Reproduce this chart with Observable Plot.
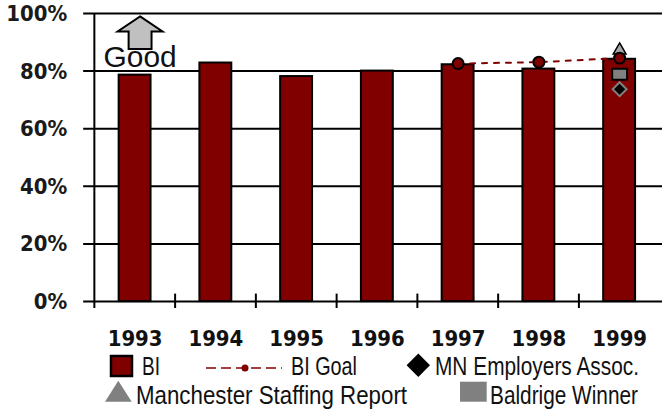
<!DOCTYPE html>
<html><head><meta charset="utf-8">
<script src="https://cdn.jsdelivr.net/npm/d3@7"></script>
<script src="https://cdn.jsdelivr.net/npm/@observablehq/plot@0.6"></script>
<style>
body{margin:0;background:#fff;}
#wrap{position:relative;width:662px;height:411px;overflow:hidden;background:#fff;}
#chart{position:absolute;left:0;top:0;}
#legsvg{position:absolute;left:0;top:0;}
.leg{position:absolute;font-family:"Liberation Sans Narrow","Arial Narrow","Liberation Sans",sans-serif;font-size:25px;color:#111;white-space:nowrap;line-height:22px;height:22px;transform-origin:left center;}
</style></head><body>
<div id="wrap"><div id="chart"></div><div id="legend"></div></div>
<script>
// ---- data ----
const years = ["1993", "1994", "1995", "1996", "1997", "1998", "1999"];
const biValues = [78.6, 82.8, 78.1, 80.0, 82.2, 80.7, 84.1];
const goalYears = ["1997", "1998", "1999"];
const goalValues = [82.6, 83.1, 84.5];
const benchYear = "1999";
const mnEmployersValue = 73.7;
const manchesterValue = 87.2;
const baldrigeValue = 78.9;
const yTicks = [0, 20, 40, 60, 80, 100];
const goodLabel = "Good";
const goodYear = "1993";
const goodArrowValue = 93.3;
const goodTextValue = 84.7;
const legendLabels = ["BI", "BI Goal", "MN Employers Assoc.", "Manchester Staffing Report", "Baldrige Winner"];

// ---- tables ----
const bi = years.map((year, i) => ({year, value: biValues[i]}));
const goal = goalYears.map((year, i) => ({year, value: goalValues[i]}));

const W = 664, ML = 92;
const step = (W - ML) / years.length;
const axisFont = "'DejaVu Sans Condensed', 'DejaVu Sans', sans-serif";
const narrowFont = "'Liberation Sans Narrow', 'Arial Narrow', 'Liberation Sans', sans-serif";

const arrowUp = {draw(ctx) {
  ctx.moveTo(0, -16.4); ctx.lineTo(22.5, -1.3); ctx.lineTo(11.5, -1.3); ctx.lineTo(11.5, 16.4);
  ctx.lineTo(-11.5, 16.4); ctx.lineTo(-11.5, -1.3); ctx.lineTo(-22.5, -1.3); ctx.closePath();
}};
const rectSym = {draw(ctx) { ctx.rect(-7.5, -5.5, 15, 11); }};

const plot = Plot.plot({
  width: W, height: 352,
  marginLeft: ML, marginRight: 0, marginTop: 13, marginBottom: 50,
  style: {background: "transparent", overflow: "visible"},
  x: {domain: years, paddingInner: 0.6, paddingOuter: 0.3, label: null, axis: null},
  y: {domain: [0, 100], label: null, axis: null},
  marks: [
    Plot.ruleY(yTicks, {stroke: "#000", strokeWidth: 2, insetLeft: -8.6}),
    Plot.ruleX([years[0]], {dx: -step / 2, y1: -2.4, y2: 100, stroke: "#000", strokeWidth: 2}),
    Plot.ruleX(years.slice(1), {dx: -step / 2, y1: -2.4, y2: 2.6, stroke: "#000", strokeWidth: 2}),
    Plot.axisY(yTicks, {tickSize: 0, tickPadding: 25, tickFormat: d => d + "%", fontSize: 22, fontWeight: "bold", fontFamily: axisFont, fill: "#1a1a1a", dy: 0.5, label: null}),
    Plot.axisX({tickSize: 0, tickPadding: 29, fontSize: 22, fontWeight: "bold", fontFamily: axisFont, fill: "#111", label: null}),
    Plot.barY(bi, {x: "year", y: "value", fill: "#800000", stroke: "#000", strokeWidth: 2}),
    Plot.line(goal, {x: "year", y: "value", stroke: "#800000", strokeWidth: 2, strokeDasharray: "5,7"}),
    Plot.dot([{year: benchYear, value: manchesterValue}], {x: "year", y: "value", symbol: "triangle", r: 4.8, fill: "#a6a6a6", stroke: "#000", strokeWidth: 1.5}),
    Plot.dot(goal, {x: "year", y: "value", r: 5.5, fill: "#800000", stroke: "#000", strokeWidth: 2}),
    Plot.dot([{year: benchYear, value: baldrigeValue}], {x: "year", y: "value", symbol: rectSym, r: 5, fill: "#808080", stroke: "#000", strokeWidth: 2}),
    Plot.dot([{year: benchYear, value: mnEmployersValue}], {x: "year", y: "value", symbol: "diamond2", r: 6.3, fill: "#000", stroke: "#808080", strokeWidth: 2}),
    Plot.dot([{year: goodYear, value: goodArrowValue}], {x: "year", y: "value", symbol: arrowUp, r: 10, dx: 5, fill: "#c0c0c0", stroke: "#000", strokeWidth: 2}),
    Plot.text([{year: goodYear, value: goodTextValue}], {x: "year", y: "value", text: () => goodLabel, dx: 5, fontSize: 30, fontFamily: narrowFont, fill: "#111"})
  ]
});
document.getElementById("chart").appendChild(plot);

// ---- legend ----
const leg = document.getElementById("legend");
const ns = "http://www.w3.org/2000/svg";
const lsvg = document.createElementNS(ns, "svg");
lsvg.setAttribute("id", "legsvg");
lsvg.setAttribute("width", 662); lsvg.setAttribute("height", 411);
lsvg.innerHTML = `
  <rect x="111" y="356" width="21" height="20" fill="#800000" stroke="#000" stroke-width="2.5"/>
  <line x1="206" x2="282" y1="368" y2="368" stroke="#800000" stroke-width="1.6" stroke-dasharray="10,5"/>
  <circle cx="245" cy="368" r="3.5" fill="#800000"/>
  <polygon points="418.3,353.5 430,365.2 418.3,376.9 406.6,365.2" fill="#000"/>
  <polygon points="105,401.7 131.7,401.7 118.3,380.7" fill="#808080"/>
  <rect x="460" y="381.7" width="26.7" height="20" fill="#808080"/>`;
leg.appendChild(lsvg);
const items = [
  {text: legendLabels[0], left: 142, top: 355.3, w: 18},
  {text: legendLabels[1], left: 291, top: 355.3, w: 66},
  {text: legendLabels[2], left: 435, top: 355.3, w: 204},
  {text: legendLabels[3], left: 136, top: 383.8, w: 271},
  {text: legendLabels[4], left: 490, top: 383.8, w: 148}
];
for (const it of items) {
  const s = document.createElement("div");
  s.className = "leg"; s.textContent = it.text;
  s.style.left = it.left + "px"; s.style.top = it.top + "px";
  leg.appendChild(s);
  const w = s.getBoundingClientRect().width;
  if (w > 0) s.style.transform = `scaleX(${it.w / w})`;
}
</script>
</body></html>
